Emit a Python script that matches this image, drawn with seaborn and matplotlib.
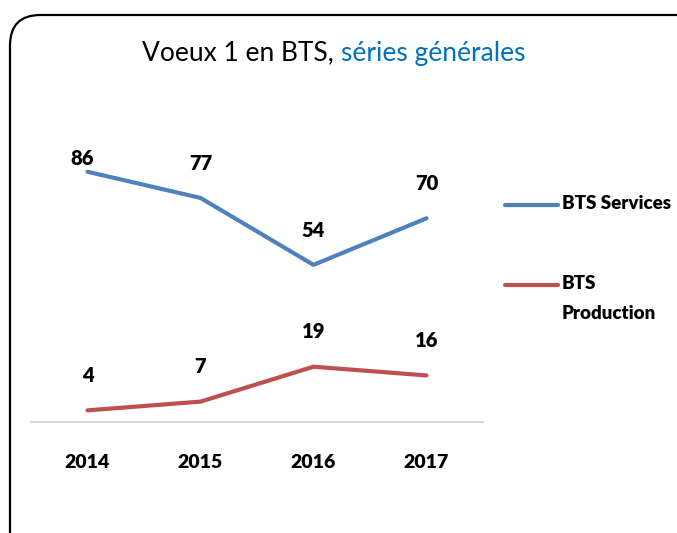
import matplotlib
matplotlib.use("Agg")
import matplotlib.pyplot as plt
import seaborn as sns
import pandas as pd
from matplotlib.patches import FancyBboxPatch
from matplotlib.lines import Line2D

years = ["2014", "2015", "2016", "2017"]
series_names = ["BTS Services", "BTS Production"]
services = [86, 77, 54, 70]
production = [4, 7, 19, 16]
legend_labels = ["BTS Services", "BTS\nProduction"]
colors = ["#4F81BD", "#C0504D"]

sns.set_theme(style="white")
plt.rcParams["font.family"] = ["Lato", "DejaVu Sans"]
plt.rcParams["text.color"] = "black"

rows = []
for name, vals in zip(series_names, [services, production]):
    for i, (y, v) in enumerate(zip(years, vals)):
        rows.append({"pos": i, "year": y, "value": v, "series": name})
df = pd.DataFrame(rows)

fig = plt.figure(figsize=(6.77, 5.33), dpi=100)
ax = fig.add_axes([31/677, 1-422/533, (483-31)/677, (422-131)/533])

sns.lineplot(data=df, x="pos", y="value", hue="series", hue_order=series_names,
             palette=colors, linewidth=3.0, ax=ax, legend=False)

ax.set_xlim(-0.5, 3.5)
ax.set_ylim(0, 100)
ax.set_xticks(range(len(years)))
ax.set_xticklabels(years, fontsize=14, fontweight="heavy", color="black")
ax.tick_params(axis="x", length=0, pad=23)
ax.set_yticks([])
ax.set_xlabel("")
ax.set_ylabel("")
for s in ["top", "right", "left"]:
    ax.spines[s].set_visible(False)
ax.spines["bottom"].set_color("#D9D9D9")
ax.spines["bottom"].set_linewidth(1.5)
ax.patch.set_alpha(0)

# data labels
for vals in [services, production]:
    for i, v in enumerate(vals):
        off = 9.5 if v > 80 else 25
        ax.annotate(str(v), (i, v), xytext=(-4 if (v > 80) else 0, off), textcoords="offset points",
                    ha="center", va="center", fontsize=14.5, fontweight="heavy", color="black")

# title
ty = 1 - 53/533
t1 = fig.text(0.5, ty, "Voeux 1 en BTS, ", fontsize=19, color="black", ha="left", va="center")
t2 = fig.text(0.5, ty, "séries générales", fontsize=19, color="#0070C0", ha="left", va="center")
fig.canvas.draw()
r = fig.canvas.get_renderer()
w1 = t1.get_window_extent(r).width
w2 = t2.get_window_extent(r).width
start = 334 - (w1 + w2)/2
t1.set_position((start/677, ty))
t2.set_position(((start + w1)/677, ty))

# legend (manual)
leg_y = [205, 285]
for c, lab, yy in zip(colors, legend_labels, leg_y):
    fig.add_artist(Line2D([505/677, 558/677], [1-yy/533, 1-yy/533], color=c, linewidth=3.0,
                          transform=fig.transFigure))
    fig.text(562/677, 1-(yy-10)/533, lab, fontsize=13.5, fontweight="heavy", ha="left", va="top",
             linespacing=1.9, color="black")

# rounded border
box = FancyBboxPatch((10/677, -30/533), 700/677, (533-15+30)/533,
                     boxstyle="round,pad=0,rounding_size=0.045",
                     transform=fig.transFigure, fill=False, edgecolor="black", linewidth=1.6,
                     mutation_aspect=677/533)
fig.add_artist(box)

fig.savefig("out.png", dpi=100)
